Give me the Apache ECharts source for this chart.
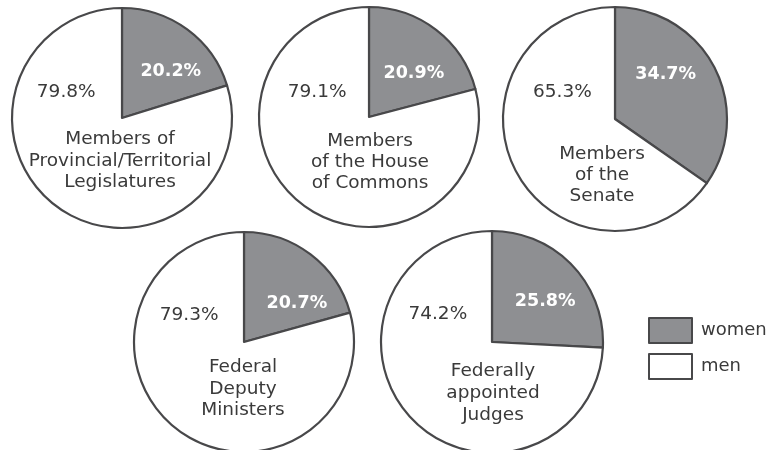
<!DOCTYPE html>
<html>
<head>
<meta charset="utf-8">
<script src="https://cdn.jsdelivr.net/npm/echarts@6/dist/echarts.min.js"></script>
<style>
  html, body { margin: 0; padding: 0; background: #fff; }
  #chart { width: 784px; height: 450px; }
</style>
</head>
<body>
<div id="chart"></div>
<script>
// data
const groups = [
  'Members of\nProvincial/Territorial\nLegislatures',
  'Members\nof the House\nof Commons',
  'Members\nof the\nSenate',
  'Federal\nDeputy\nMinisters',
  'Federally\nappointed\nJudges'
]
const women = [20.2, 20.9, 34.7, 20.7, 25.8]
const men = [79.8, 79.1, 65.3, 79.3, 74.2]

// layout of each pie (center + radius, px)
const centers = [[122, 118], [369, 117], [615, 119], [244, 342], [492, 342]]
const radii = [110, 110, 112, 110, 111]
// where the labels sit, relative to the pie center
const womenSpot = [[47, -44], [43, -41], [48, -43], [51, -36], [51, -38]]
const menSpot = [[-54, -28], [-50, -27], [-50, -28], [-53, -29], [-52, -30]]
const nameSpot = [[-2, 43], [1, 45], [-13, 56], [-1, 47], [1, 51]]
const nameLineH = [21.5, 21, 21, 21.5, 22]

const FONT = 'DejaVu Sans'
const GRAY = '#8e8f92'
const EDGE = '#48484a'

const mChart = echarts.init(document.getElementById('chart'), null, {renderer: 'canvas'})

// offset from the default "inside" spot (r/2 on mid angle) to where we want the label
const insideOffset = (r, startFrac, frac, spot) => {
  const th = (startFrac + frac / 2) * 2 * Math.PI
  const x = r / 2 * Math.sin(th)
  const y = -r / 2 * Math.cos(th)
  return [spot[0] - x, spot[1] - y]
}

const getSeries = () => {
  const series = []
  groups.forEach((g, i) => {
    const r = radii[i]
    const w = women[i] / 100
    series.push({
      name: g,
      type: 'pie',
      center: centers[i],
      radius: [0, r],
      startAngle: 90,
      clockwise: true,
      avoidLabelOverlap: false,
      silent: true,
      animation: false,
      itemStyle: {borderColor: EDGE, borderWidth: 2.2},
      labelLine: {show: false},
      data: [
        {
          name: 'women',
          value: women[i],
          itemStyle: {color: GRAY},
          label: {
            show: true,
            position: 'inside',
            formatter: '{c}%',
            color: '#fff',
            fontFamily: FONT,
            fontWeight: 'bold',
            fontSize: 17.5,
            offset: insideOffset(r, 0, w, womenSpot[i])
          }
        },
        {
          name: 'men',
          value: men[i],
          itemStyle: {color: '#fff'},
          label: {
            show: true,
            position: 'inside',
            formatter: '{c}%',
            color: '#3a3a3a',
            fontFamily: FONT,
            fontSize: 18.5,
            offset: insideOffset(r, w, 1 - w, menSpot[i])
          }
        }
      ]
    })
  })
  return series
}

const getTitles = () => groups.map((g, i) => ({
  text: g,
  left: centers[i][0] + nameSpot[i][0],
  top: centers[i][1] + nameSpot[i][1],
  textAlign: 'center',
  textVerticalAlign: 'middle',
  padding: 0,
  textStyle: {
    fontFamily: FONT,
    fontSize: 18.5,
    fontWeight: 'normal',
    color: '#3a3a3a',
    lineHeight: nameLineH[i]
  }
}))

const options = {
  backgroundColor: '#fff',
  title: getTitles(),
  legend: {
    show: true,
    orient: 'vertical',
    left: 643,
    top: 312,
    icon: 'rect',
    itemWidth: 43,
    itemHeight: 25,
    itemGap: 9,
    data: ['women', 'men'],
    itemStyle: {borderColor: EDGE, borderWidth: 2},
    textStyle: {fontFamily: FONT, fontSize: 18, color: '#3a3a3a', padding: [0, 0, 0, 4]}
  },
  series: getSeries()
}
mChart.setOption(options)
</script>
</body>
</html>
